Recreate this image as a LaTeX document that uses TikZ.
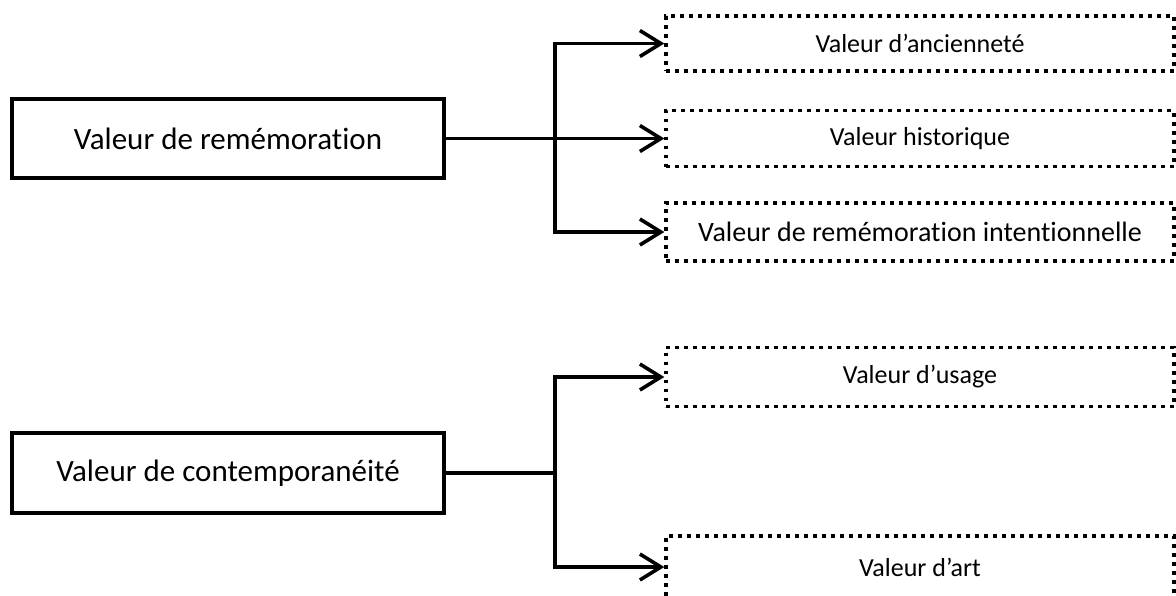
\documentclass[tikz,border=0pt]{standalone}
\usepackage{fontspec}
\setmainfont{Carlito}[Ligatures=NoCommon, Contextuals=NoAlternate]
\usetikzlibrary{arrows.meta}
\tikzset{
  mainbox/.style={draw=black, line width=3.5pt, minimum width=432pt, inner sep=0pt, font=\fontsize{31}{37}\selectfont},
  subbox/.style={draw=black, line width=3.4pt, dash pattern=on 3.8pt off 5.2pt, minimum width=508pt, inner sep=0pt, font=\fontsize{26}{31}\selectfont},
  conn/.style={line width=3.6pt, -{Straight Barb[length=21pt,width=26pt,line width=3.6pt]}},
  plain/.style={line width=3.6pt}
}
\begin{document}
\begin{tikzpicture}[x=1pt,y=-1pt]
\useasboundingbox (0,0) rectangle (1176,595);
\clip (0,0) rectangle (1176,595);
% left boxes
\node[mainbox, minimum height=79pt] (L1) at (228,138.5) {Valeur de remémoration};
\node[mainbox, minimum height=80pt] (L2) at (228,473) {Valeur de contemporanéité};
% right boxes
\node[subbox, minimum height=55pt] (B1) at (920,43.5) {Valeur d’ancienneté};
\node[subbox, minimum height=56pt] (B2) at (920,138.5) {Valeur historique};
\node[subbox, minimum height=58pt, font=\fontsize{28}{33}\selectfont] (B3) at (920,232) {Valeur de remémoration intentionnelle};
\node[subbox, minimum height=59pt] (B4) at (920,377) {Valeur d’usage};
\node[subbox, minimum height=62pt] (B5) at (920,567) {Valeur d’art};
% junctions
\coordinate (j1) at (555,138.5);
\coordinate (j2) at (555,473);
% connectors group 1
\draw[conn] (L1.east) -- (B2.west);
\draw[conn] (j1) |- (B1.west);
\draw[conn] (j1) |- (B3.west);
% connectors group 2
\draw[plain] (L2.east) -- (j2);
\draw[conn] (j2) |- (B4.west);
\draw[conn] (j2) |- (B5.west);
\end{tikzpicture}
\end{document}
